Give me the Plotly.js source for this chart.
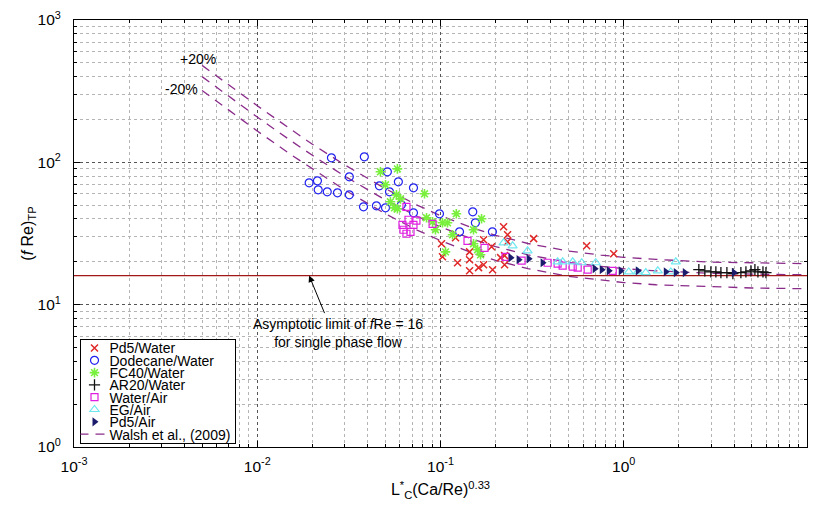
<!DOCTYPE html>
<html>
<head>
<meta charset="utf-8">
<script src="https://cdn.plot.ly/plotly-3.0.1.min.js"></script>
<style>html,body{margin:0;padding:0;background:#fff;}#plot{width:818px;height:515px;}</style>
</head>
<body>
<div id="plot"></div>
<script>
// ---- data ----
const pd5WaterX = [0.1013,0.1025,0.1208,0.1239,0.1441,0.1441,0.1441,0.1613,0.1718,0.1718,0.1900,0.1924,0.2128,0.2209,0.2323,0.2323,0.2237,0.2237,0.3223,0.6277,0.8818];
const pd5WaterY = [26.8,21.7,29.5,19.7,23.5,20.7,17.3,18.2,28.6,19.1,25.5,17.6,21.4,35.3,31.0,27.7,22.1,19.1,29.1,25.9,22.8];

const dodecaneX = [0.0254,0.0384,0.0318,0.0192,0.0213,0.0215,0.0241,0.0274,0.0318,0.0380,0.0447,0.0501,0.0513,0.0464,0.0527,0.0589,0.0712,0.0612,0.0712,0.0987,0.150,0.155,0.127,0.192];
const dodecaneY = [107.5,109.3,79.1,71.8,74.2,64.1,62.1,61.1,59.1,48.7,49.5,47.9,85.8,68.4,62.1,73.0,66.2,50.3,44.2,43.5,44.9,37.6,32.5,32.5];

const fc40X = [0.0470,0.0582,0.0501,0.0818,0.0575,0.0605,0.0533,0.0561,0.0582,0.122,0.0839,0.0905,0.1025,0.1092,0.0939,0.1675,0.1514,0.1163,0.1514,0.1593,0.1654,0.1065];
const fc40Y = [85.8,90.0,69.5,60.1,59.1,55.4,52.8,47.9,47.2,43.5,40.8,38.2,37.6,37.6,33.6,40.1,33.6,31.0,26.8,24.3,22.4,23.5];

const ar20X = [2.569,2.770,2.988,3.182,3.390,3.655,3.941,4.358,4.642,4.943,5.197,5.397,5.750,5.970];
const ar20Y = [17.6,17.3,17.0,17.0,16.8,16.8,16.5,16.8,17.0,17.3,17.6,17.0,17.0,16.8];

const waterAirX = [0.0652,0.0669,0.0739,0.0712,0.0620,0.0628,0.0686,0.0652,0.0905,0.1404,0.1739,0.2265,0.2771,0.3843,0.4357,0.4642,0.5265,0.5606,0.6358,0.8708];
const waterAirY = [48.7,39.5,38.9,36.4,36.4,33.6,32.5,31.5,37.0,28.1,25.1,21.7,20.4,19.7,19.4,18.8,18.5,18.2,17.6,17.3];

const egAirX = [0.2209,0.2474,0.2988,0.4357,0.4642,0.5265,0.5894,0.7031,1.065,1.193,1.319,1.534,1.806,1.924];
const egAirY = [27.2,25.9,23.9,20.0,20.0,20.0,19.7,19.7,17.0,17.0,16.8,17.3,17.0,20.0];

const pd5AirX = [0.2413,0.2668,0.3027,0.3608,0.6943,0.7583,0.8282,0.9630,1.193,1.696,1.924,2.154,3.991];
const pd5AirY = [21.4,20.7,21.0,19.7,17.9,17.6,17.3,17.3,17.3,17.0,16.8,16.8,16.8];

const walshX = [0.005,0.0075,0.01,0.015,0.02,0.03,0.05,0.075,0.1,0.15,0.2,0.3,0.5,0.75,1,1.5,2,3,5,7.5,10];
const walshY = [400,272,208,144,112,80,54.4,41.6,35.2,28.8,25.6,22.4,19.8,18.6,17.9,17.3,17.0,16.6,16.4,16.3,16.2];
const walshUpperY = [480,326,250,173,134,96,65.3,49.9,42.2,34.6,30.7,26.9,23.8,22.3,21.5,20.8,20.4,19.9,19.7,19.5,19.4];
const walshLowerY = [320,218,166,115,90,64,43.5,33.3,28.2,23.0,20.5,17.9,15.8,14.9,14.3,13.8,13.6,13.3,13.1,13.0,12.95];

const asymptote = 16;
const xRangeVals = [0.001, 10];
const xTickVals = [0.001, 0.01, 0.1, 1, 10];
const xTickText = ['10<sup>-3</sup>','10<sup>-2</sup>','10<sup>-1</sup>','10<sup>0</sup>','10<sup>1</sup>'];
const yTickVals = [1, 10, 100, 1000];
const yTickText = ['10<sup>0</sup>','10<sup>1</sup>','10<sup>2</sup>','10<sup>3</sup>'];

// ---- styling ----
const FONT = 'Arial, "Liberation Sans", sans-serif';
const purple = '#8a2b8a';
const dashLine = {color: purple, width: 1.3, dash: '9px,7px'};

const traces = [
  {x: walshX, y: walshUpperY, mode: 'lines', line: dashLine, showlegend: false, hoverinfo: 'skip'},
  {x: walshX, y: walshLowerY, mode: 'lines', line: dashLine, showlegend: false, hoverinfo: 'skip'},
  {x: walshX, y: walshY, mode: 'lines', line: dashLine, name: 'Walsh et al., (2009)', legendrank: 8},
  {x: xRangeVals, y: xRangeVals.map(() => asymptote), mode: 'lines', line: {color: '#a01818', width: 1.2}, showlegend: false, hoverinfo: 'skip'},
  {x: pd5WaterX, y: pd5WaterY, mode: 'markers', name: 'Pd5/Water', legendrank: 1,
   marker: {symbol: 'x-thin-open', size: 7, color: '#e02828', line: {color: '#e02828', width: 1.5}}},
  {x: dodecaneX, y: dodecaneY, mode: 'markers', name: 'Dodecane/Water', legendrank: 2,
   marker: {symbol: 'circle-open', size: 8, color: '#2020f0', line: {color: '#2020f0', width: 1.2}}},
  {x: fc40X, y: fc40Y, mode: 'markers', name: 'FC40/Water', legendrank: 3,
   marker: {symbol: 'asterisk-open', size: 8, color: '#78f03c', line: {color: '#78f03c', width: 1.6}}},
  {x: ar20X, y: ar20Y, mode: 'markers', name: 'AR20/Water', legendrank: 4,
   marker: {symbol: 'cross-thin-open', size: 8, color: '#111', line: {color: '#111', width: 1.3}}},
  {x: waterAirX, y: waterAirY, mode: 'markers', name: 'Water/Air', legendrank: 5,
   marker: {symbol: 'square-open', size: 7, color: '#e020e0', line: {color: '#e020e0', width: 1.2}}},
  {x: egAirX, y: egAirY, mode: 'markers', name: 'EG/Air', legendrank: 6,
   marker: {symbol: 'triangle-up-open', size: 8, color: '#70e8f0', line: {color: '#70e8f0', width: 1.2}}},
  {x: pd5AirX, y: pd5AirY, mode: 'markers', name: 'Pd5/Air', legendrank: 7,
   marker: {symbol: 'triangle-right', size: 8, color: '#1c1c6c', line: {width: 0}}}
];

const axisCommon = {
  type: 'log', showline: true, linecolor: '#000', linewidth: 1, mirror: 'allticks',
  ticks: 'inside', ticklen: 6, tickcolor: '#000', tickwidth: 1,
  showgrid: true, gridcolor: '#555', griddash: 'dot', gridwidth: 1,
  zeroline: false, tickmode: 'array',
  tickfont: {family: FONT, size: 15.5, color: '#000'},
  minor: {dtick: 'D1', ticks: 'inside', ticklen: 3, tickcolor: '#000', showgrid: true, gridcolor: '#b4b4b4', griddash: 'dot', gridwidth: 1}
};

const layout = {
  width: 818, height: 515,
  margin: {l: 74, r: 11, t: 20, b: 68},
  paper_bgcolor: '#fff', plot_bgcolor: '#fff',
  font: {family: FONT, color: '#000'},
  showlegend: true,
  xaxis: Object.assign({}, axisCommon, {
    range: [-3, 1], tickvals: xTickVals, ticktext: xTickText, ticklabelstandoff: 5,
    title: {text: 'L<sup>*</sup><sub>C</sub>(Ca/Re)<sup>0.33</sup>', font: {family: FONT, size: 16}, standoff: 10}
  }),
  yaxis: Object.assign({}, axisCommon, {
    range: [0, 3], tickvals: yTickVals, ticktext: yTickText, ticklabelstandoff: 9,
    title: {text: '(<i>f</i> Re)<sub>TP</sub>', font: {family: FONT, size: 16}, standoff: 0}
  }),
  legend: {
    x: 0.008, y: 0.0094, xanchor: 'left', yanchor: 'bottom',
    bgcolor: '#fff', bordercolor: '#000', borderwidth: 1,
    font: {family: FONT, size: 14, color: '#000'},
    traceorder: 'normal', itemwidth: 30
  },
  annotations: [
    {x: Math.log10(0.0192), y: Math.log10(asymptote), xref: 'x', yref: 'y', text: '', showarrow: true,
     arrowhead: 2, arrowsize: 1.3, arrowwidth: 1, arrowcolor: '#000', ax: 16, ay: 39},
    {x: Math.log10(0.0277), y: 0.8035, xref: 'x', yref: 'y', showarrow: false,
     text: 'Asymptotic limit of <i>f</i>Re = 16<br>for single phase flow',
     font: {family: FONT, size: 14, color: '#000'}, xanchor: 'center', yanchor: 'middle'},
    {x: -2.322, y: 2.726, xref: 'x', yref: 'y', showarrow: false, text: '+20%',
     font: {family: FONT, size: 14, color: '#000'}},
    {x: -2.415, y: 2.516, xref: 'x', yref: 'y', showarrow: false, text: '-20%',
     font: {family: FONT, size: 14, color: '#000'}}
  ]
};

const gd = document.getElementById('plot');
// legend box geometry in the reference (pixels)
const LEG_LEFT = 80, LEG_TOP = 339, LEG_WIDTH = 155, LEG_FIRST = 9.5, LEG_STEP = 12.3, LEG_PAD_BOTTOM = 9;
const LEG_ITEM_SHIFT = -6, LEG_TEXT_SHIFT = -5;
function parseT(el) {
  const m = /translate\(\s*([-\d.e]+)[\s,]+([-\d.e]+)\s*\)/.exec(el.getAttribute('transform') || '');
  return m ? [parseFloat(m[1]), parseFloat(m[2])] : [0, 0];
}
function compressLegend() {
  const leg = gd.querySelector('.legend');
  if (!leg) return;
  const items = Array.from(leg.querySelectorAll('.traces'));
  if (items.length < 2) return;
  items.sort((a, b) => parseT(a)[1] - parseT(b)[1]);
  const minX = Math.min.apply(null, items.map(el => parseT(el)[0]));
  items.forEach((el, i) => {
    el.setAttribute('transform', 'translate(' + (minX + LEG_ITEM_SHIFT) + ',' + (LEG_FIRST + i * LEG_STEP) + ')');
    const t = el.querySelector('text.legendtext');
    if (t) {
      const tx = parseFloat(t.getAttribute('x')) || 0;
      t.setAttribute('x', tx + LEG_TEXT_SHIFT);
    }
  });
  const bg = leg.querySelector('rect.bg');
  let bx = 0, by = 0;
  if (bg) {
    bx = parseFloat(bg.getAttribute('x')) || 0;
    by = parseFloat(bg.getAttribute('y')) || 0;
    bg.setAttribute('height', LEG_FIRST + (items.length - 1) * LEG_STEP + LEG_PAD_BOTTOM);
    bg.setAttribute('width', LEG_WIDTH);
  }
  leg.setAttribute('transform', 'translate(' + (LEG_LEFT - bx) + ',' + (LEG_TOP - by) + ')');
}
Plotly.newPlot(gd, traces, layout, {staticPlot: true, displayModeBar: false}).then(compressLegend);
</script>
</body>
</html>
